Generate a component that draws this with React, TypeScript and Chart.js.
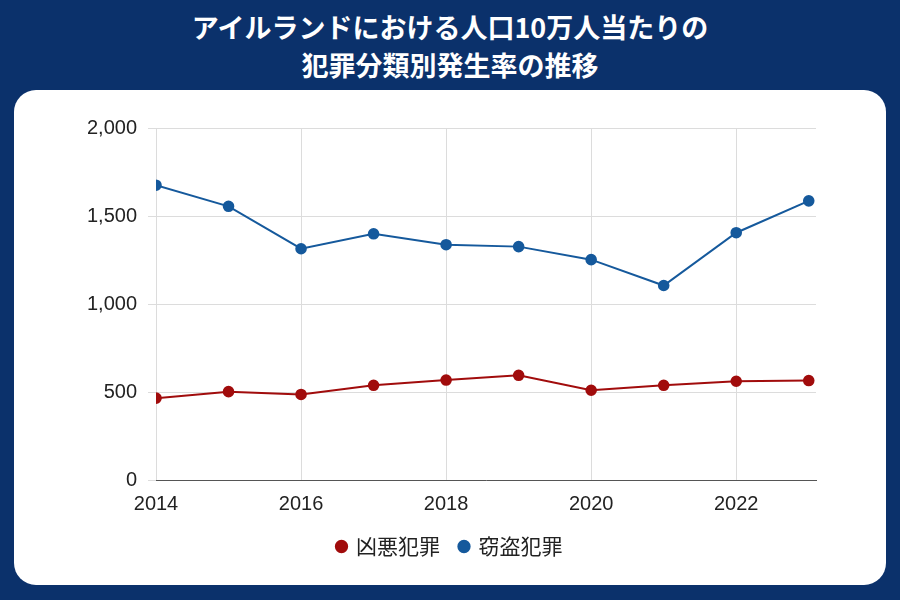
import React, { useEffect, useRef } from "react";
import { Chart, registerables } from "chart.js";

Chart.register(...registerables);

const years = [2014, 2015, 2016, 2017, 2018, 2019, 2020, 2021, 2022, 2023];
const violentCrime = [465, 502, 486, 538, 568, 595, 510, 538, 561, 565];
const theftCrime = [1675, 1555, 1314, 1399, 1337, 1326, 1252, 1105, 1405, 1586];
const xTickValues = [2014, 2016, 2018, 2020, 2022];
const seriesNames = ["凶悪犯罪", "窃盗犯罪"];
const titleLines = ["アイルランドにおける人口10万人当たりの", "犯罪分類別発生率の推移"];

export default function App() {
  const ref = useRef<HTMLCanvasElement | null>(null);
  useEffect(() => {
    if (!ref.current) return;
    const chart = new Chart(ref.current, {
      type: "line",
      data: {
        datasets: [
          {
            label: seriesNames[0],
            data: years.map((y, i) => ({ x: y, y: violentCrime[i] })),
            borderColor: "#a10c0c",
            backgroundColor: "#a10c0c",
            borderWidth: 2,
            pointRadius: 4.8,
            pointHoverRadius: 4.8,
            tension: 0,
          },
          {
            label: seriesNames[1],
            data: years.map((y, i) => ({ x: y, y: theftCrime[i] })),
            borderColor: "#15599c",
            backgroundColor: "#15599c",
            borderWidth: 2,
            pointRadius: 4.8,
            pointHoverRadius: 4.8,
            tension: 0,
          },
        ],
      },
      options: {
        animation: false,
        responsive: false,
        maintainAspectRatio: false,
        layout: { padding: { left: 0, right: 0, top: 38, bottom: 18 } },
        plugins: {
          legend: {
            position: "bottom",
            labels: {
              usePointStyle: true,
              pointStyle: "circle",
              boxWidth: 8,
              boxHeight: 8,
              padding: 20,
              color: "#222",
              font: { family: "'Noto Sans CJK JP', sans-serif", size: 21 },
            },
          },
          tooltip: { enabled: false },
          title: { display: false },
        },
        scales: {
          x: {
            type: "linear",
            min: 2014,
            max: 2023.1,
            afterBuildTicks: (scale: any) => {
              scale.ticks = xTickValues.map((v) => ({ value: v }));
            },
            afterFit: (scale: any) => {
              scale.height = 36;
            },
            ticks: {
              color: "#222",
              padding: 12,
              font: { family: "'Liberation Sans', Arial, sans-serif", size: 20 },
              callback: (v: any) => String(v),
            },
            grid: { color: "#dcdcdc", drawTicks: false, lineWidth: 1 },
            border: { display: true, color: "#555", width: 1 },
          },
          y: {
            min: 0,
            max: 2000,
            afterFit: (scale: any) => {
              scale.width = 142;
            },
            ticks: {
              stepSize: 500,
              color: "#222",
              padding: 11,
              font: { family: "'Liberation Sans', Arial, sans-serif", size: 20 },
              callback: (v: any) => Number(v).toLocaleString("en-US"),
            },
            grid: { color: "#dcdcdc", tickLength: 8, lineWidth: 1 },
            border: { display: false },
          },
          yRight: {
            type: "linear",
            position: "right",
            min: 0,
            max: 2000,
            afterFit: (scale: any) => {
              scale.width = 70;
            },
            ticks: { display: false },
            grid: { drawOnChartArea: false, drawTicks: false, display: false },
            border: { display: false },
          },
        },
      },
    });
    return () => chart.destroy();
  }, []);

  return (
    <div
      style={{
        position: "absolute",
        left: 0,
        top: 0,
        width: 900,
        height: 600,
        background: "#0b316b",
        overflow: "hidden",
      }}
    >
      <div
        style={{
          position: "absolute",
          left: 0,
          top: 8,
          width: 900,
          textAlign: "center",
          color: "#fff",
          fontFamily: "'Noto Sans CJK JP', sans-serif",
          fontWeight: 700,
          fontSize: 27,
          lineHeight: "38px",
        }}
      >
        {titleLines.map((t, i) => (
          <div key={i}>{t}</div>
        ))}
      </div>
      <div
        style={{
          position: "absolute",
          left: 14,
          top: 90,
          width: 872,
          height: 495,
          background: "#fff",
          borderRadius: 22,
          overflow: "hidden",
        }}
      >
        <canvas ref={ref} width={872} height={495} style={{ display: "block" }} />
      </div>
    </div>
  );
}
